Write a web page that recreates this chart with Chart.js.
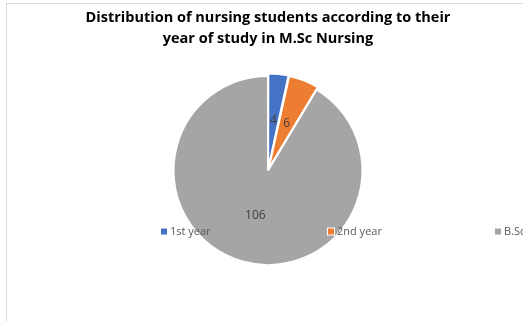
<!DOCTYPE html>
<html>
<head>
<meta charset="utf-8">
<script src="https://cdn.jsdelivr.net/npm/chart.js@4.4.1/dist/chart.umd.min.js"></script>
<style>
    html, body { margin: 0; padding: 0; background: #fff; overflow: hidden; width: 523px; height: 321px; }
    .frame { position: absolute; left: 6px; top: 3px; width: 526px; height: 318px;
             border-left: 1px solid #d9d9d9; border-top: 1px solid #d9d9d9; }
    canvas { display: block; }
</style>
</head>
<body>
<div class="frame"><canvas id="pieChart" width="526" height="318"></canvas></div>
<script>
// Dados do gráfico
const titleLines = ['Distribution of nursing students according to their', 'year of study in M.Sc Nursing'];
const categories = ['1st year', '2nd year', 'B.Sc Nursing'];
const students = [4, 6, 106];
const colors = ['#4472C4', '#ED7D31', '#A5A5A5'];

// Rótulos de valor dentro das fatias
const valueLabels = {
    id: 'valueLabels',
    afterDatasetsDraw(chart) {
        const ctx = chart.ctx;
        const meta = chart.getDatasetMeta(0);
        ctx.save();
        ctx.font = '12px "Open Sans", sans-serif';
        ctx.fillStyle = '#404040';
        ctx.textAlign = 'center';
        ctx.textBaseline = 'middle';
        meta.data.forEach((arc, i) => {
            const p = arc.tooltipPosition();
            ctx.fillText(String(chart.data.datasets[0].data[i]), p.x, p.y);
        });
        ctx.restore();
    }
};

// Legenda sobreposta ao gráfico (como no Excel)
const overlayLegend = {
    id: 'overlayLegend',
    afterDraw(chart) {
        const ctx = chart.ctx;
        const arc = chart.getDatasetMeta(0).data[2];
        const cx = arc.x, cy = arc.y;
        const y = cy + 61;
        ctx.save();
        ctx.font = '11px "Open Sans", sans-serif';
        ctx.textBaseline = 'middle';
        chart.data.labels.forEach((lab, i) => {
            const x = cx - 107 + i * 167;
            ctx.fillStyle = '#ffffff';
            ctx.fillRect(x - 1, y - 4, 8, 8);
            ctx.fillStyle = chart.data.datasets[0].backgroundColor[i];
            ctx.fillRect(x, y - 3, 6, 6);
            ctx.fillStyle = '#595959';
            ctx.fillText(lab, x + 9, y);
        });
        ctx.restore();
    }
};

new Chart(document.getElementById('pieChart'), {
    type: 'pie',
    data: {
        labels: categories,
        datasets: [{
            data: students,
            backgroundColor: colors,
            borderColor: '#ffffff',
            borderWidth: 2,
            offset: [6, 6, 0]
        }]
    },
    options: {
        responsive: false,
        animation: false,
        layout: { padding: { left: 0, right: 4, top: 0, bottom: 53 } },
        plugins: {
            legend: { display: false },
            tooltip: { enabled: false },
            title: {
                display: true,
                text: titleLines,
                color: '#000000',
                font: { family: '"Open Sans", sans-serif', size: 14.5, weight: 'bold', lineHeight: 1.45 },
                padding: { top: 3, bottom: 23 }
            }
        }
    },
    plugins: [valueLabels, overlayLegend]
});
</script>
</body>
</html>
